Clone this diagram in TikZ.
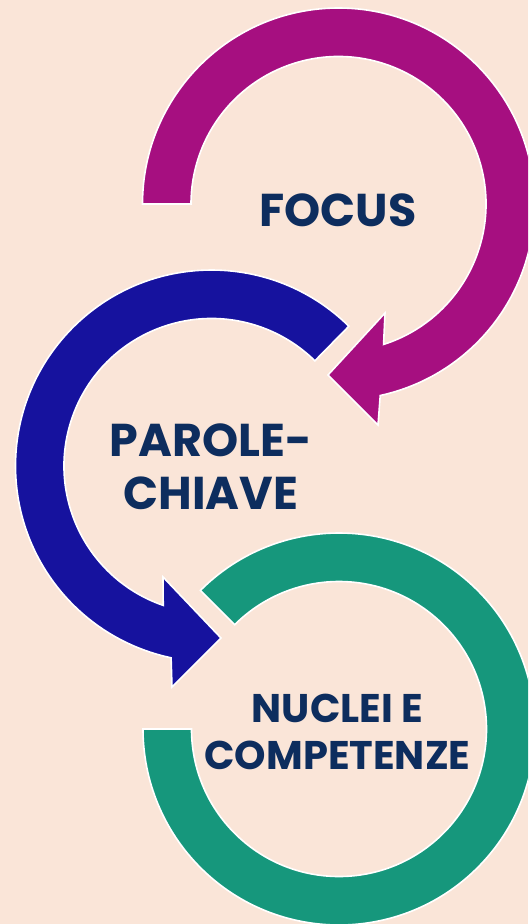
\documentclass[tikz,border=0pt]{standalone}
\usepackage{fontspec}
\setmainfont{Poppins}
\usetikzlibrary{calc}
\definecolor{bg}{RGB}{250,229,216}
\definecolor{mag}{RGB}{166,15,128}
\definecolor{blu}{RGB}{22,18,158}
\definecolor{grn}{RGB}{22,151,124}
\definecolor{txt}{RGB}{13,45,94}
\begin{document}
\begin{tikzpicture}[x=1pt,y=1pt,
  ring/.style={draw=white, line width=1.6pt, line join=miter},
  lbl/.style={text=txt, font=\bfseries, align=center, inner sep=0pt}]
\useasboundingbox (0,0) rectangle (528,-924);
\fill[bg] (0,0) rectangle (528,-924);
\clip (0,0) rectangle (528,-924);
\coordinate (mc) at (338.5,-204);
\coordinate (bc) at (211.5,-466);
\coordinate (gc) at (339,-729);
% green ring
\path[ring, fill=grn] ($(gc)+(135:196)$) arc[start angle=135, end angle=-180, radius=196]
  -- ($(gc)+(180:147.5)$) arc[start angle=-180, end angle=135, radius=147.5] -- cycle;
% blue arrow
\path[ring, fill=blu] ($(bc)+(45.5:196)$) arc[start angle=45.5, end angle=258.1, radius=196]
  -- (172,-687) -- (221,-638) -- (163,-577)
  -- ($(bc)+(250.9:147.5)$) arc[start angle=250.9, end angle=45.5, radius=147.5] -- cycle;
% magenta arrow
\path[ring, fill=mag] ($(mc)+(180:196)$) arc[start angle=180, end angle=-77.7, radius=196]
  -- (378,-425) -- (328,-375) -- (385,-313)
  -- ($(mc)+(-72.2:147.5)$) arc[start angle=-72.2, end angle=180, radius=147.5] -- cycle;
% labels
\node[lbl, font=\bfseries\fontsize{46}{53}\selectfont] (focus) at (338,-210.5) {FOCUS};
\node[lbl, font=\bfseries\fontsize{46}{53}\selectfont] (parole) at (211,-467) {PAROLE-\\CHIAVE};
\node[lbl, font=\bfseries\fontsize{40}{47}\selectfont] (nuclei) at (337.5,-731.5) {NUCLEI E\\COMPETENZE};
\end{tikzpicture}
\end{document}
